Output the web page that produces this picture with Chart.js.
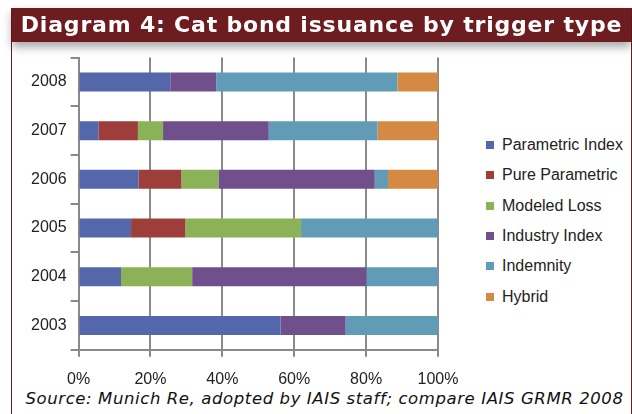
<!DOCTYPE html>
<html>
<head>
<meta charset="utf-8">
<script src="https://cdn.jsdelivr.net/npm/chart.js@4/dist/chart.umd.min.js"></script>
<style>
    html, body { margin: 0; padding: 0; background: #fff; }
    body { width: 632px; height: 414px; position: relative; overflow: hidden; }
    #panel {
        position: absolute; left: 11px; top: 8px; width: 619px; height: 406px;
        border-left: 1px solid #6d1d20; border-right: 1px solid #6d1d20;
    }
    #title {
        position: absolute; left: 0; top: 0; width: 619px; height: 34px;
        background: #6d1d20; color: #fff;
        font-family: "DejaVu Sans", sans-serif; font-weight: bold; font-size: 22px;
        letter-spacing: 0.8px; line-height: 34px; text-align: center;
        box-shadow: 0 5px 9px rgba(0, 0, 0, 0.35);
        z-index: 2;
    }
    #myChart { position: absolute; left: 0; top: 36px; }
    #legend {
        position: absolute; left: 474px; top: 122px;
        font-family: "Liberation Sans", Arial, sans-serif; font-size: 16px; color: #222;
    }
    .item { height: 30.3px; display: flex; align-items: center; white-space: nowrap; }
    .box { width: 8px; height: 8px; margin-right: 8px; }
    #source {
        position: absolute; left: 3px; top: 381px; width: 619px; text-align: center;
        font-family: "DejaVu Sans", sans-serif; font-style: italic; font-size: 16.5px;
        letter-spacing: 0.6px; color: #111; white-space: nowrap;
    }
</style>
</head>
<body>
<div id="panel">
    <div id="source">Source: Munich Re, adopted by IAIS staff; compare IAIS GRMR 2008</div>
    <canvas id="myChart" width="470" height="361"></canvas>
    <div id="legend"></div>
    <div id="title">Diagram 4: Cat bond issuance by trigger type</div>
</div>
<script>
const years = ['2008', '2007', '2006', '2005', '2004', '2003'];
const parametricIndex = [25.5, 5.5, 16.7, 14.6, 11.8, 56.2];
const pureParametric = [0, 11.0, 11.9, 15.1, 0, 0];
const modeledLoss = [0, 7.0, 10.3, 32.2, 19.8, 0];
const industryIndex = [12.8, 29.4, 43.5, 0, 48.5, 18.1];
const indemnity = [50.4, 30.3, 3.7, 38.1, 19.9, 25.7];
const hybrid = [11.3, 16.8, 13.9, 0, 0, 0];
const xTicks = [0, 20, 40, 60, 80, 100];

const tickFont = { family: "'Liberation Sans', Arial, sans-serif", size: 16 };

function renderLegend(chart) {
    const el = document.getElementById('legend');
    chart.data.datasets.forEach(ds => {
        const row = document.createElement('div');
        row.className = 'item';
        const box = document.createElement('span');
        box.className = 'box';
        box.style.background = ds.backgroundColor;
        row.appendChild(box);
        row.appendChild(document.createTextNode(ds.label));
        el.appendChild(row);
    });
}

function renderChart() {
    const ctx = document.getElementById('myChart');

    let series = [
        { label: 'Parametric Index', data: parametricIndex, backgroundColor: '#5467aa' },
        { label: 'Pure Parametric', data: pureParametric, backgroundColor: '#9d3e3a' },
        { label: 'Modeled Loss', data: modeledLoss, backgroundColor: '#8cb258' },
        { label: 'Industry Index', data: industryIndex, backgroundColor: '#704f8d' },
        { label: 'Indemnity', data: indemnity, backgroundColor: '#629bb6' },
        { label: 'Hybrid', data: hybrid, backgroundColor: '#d48a42' }
    ];
    series.forEach(s => {
        s.barPercentage = 0.39;
        s.categoryPercentage = 1;
        s.borderWidth = 0;
    });

    const chart = new Chart(ctx, {
        type: 'bar',
        data: {
            labels: years,
            datasets: series
        },
        options: {
            indexAxis: 'y',
            responsive: false,
            animation: false,
            layout: { padding: { left: 15, right: 44, top: 8, bottom: 3 } },
            plugins: {
                tooltip: { enabled: false },
                legend: { display: false }
            },
            scales: {
                x: {
                    stacked: true,
                    min: 0,
                    max: 100,
                    afterBuildTicks: axis => { axis.ticks = xTicks.map(v => ({ value: v })); },
                    grid: { color: '#8a8a8a', lineWidth: 2, tickLength: 7 },
                    border: { color: '#8a8a8a', width: 2 },
                    ticks: {
                        padding: 13,
                        color: '#222',
                        font: tickFont,
                        callback: v => v + '%'
                    }
                },
                y: {
                    stacked: true,
                    grid: { drawOnChartArea: false, color: '#8a8a8a', lineWidth: 2, tickLength: 8, offset: true },
                    border: { color: '#8a8a8a', width: 2 },
                    ticks: {
                        padding: 4,
                        color: '#222',
                        font: tickFont
                    }
                }
            }
        }
    });
    renderLegend(chart);
}

renderChart();
</script>
</body>
</html>
